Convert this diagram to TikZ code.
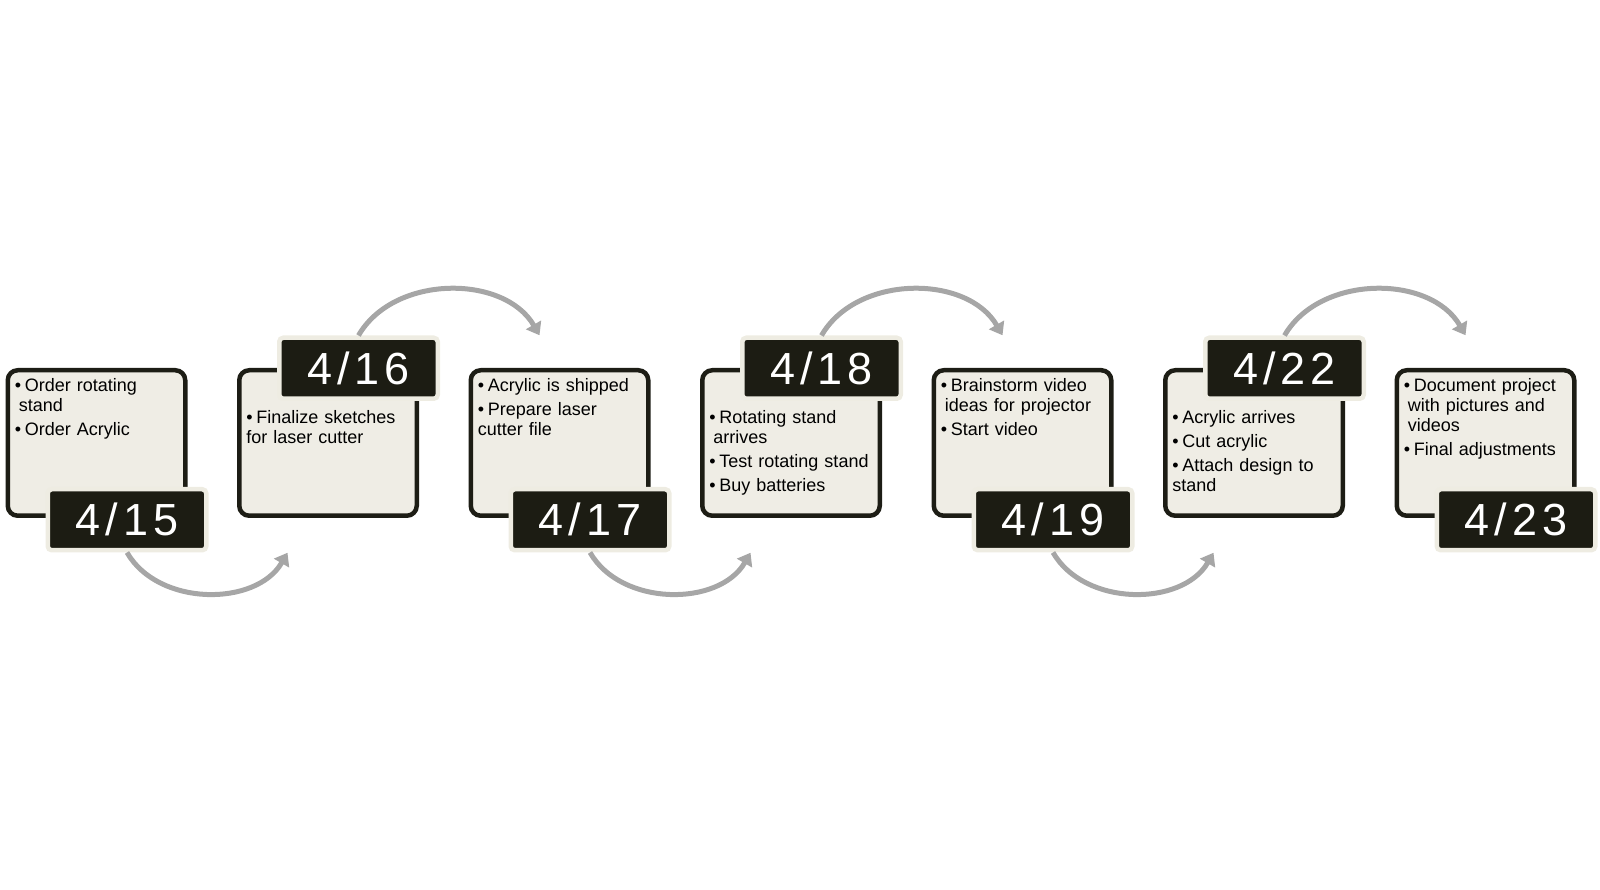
\documentclass[tikz,border=0pt]{standalone}
\usepackage{fontspec}
\setmainfont{Liberation Sans}
\newfontfamily\datefont[LetterSpace=11]{Liberation Sans}
\usetikzlibrary{positioning, arrows.meta}

\definecolor{boxline}{HTML}{1D1D15}
\definecolor{boxfill}{HTML}{EFEDE5}
\definecolor{datefill}{HTML}{1C1C13}
\definecolor{dateframe}{HTML}{EEECE2}
\definecolor{flowgray}{HTML}{A6A6A6}

\newcommand{\bitem}{\par\hangindent=4pt\hangafter=1\noindent\textbullet\hspace{3.7pt}}

\tikzset{
  task/.style={draw=boxline, fill=boxfill, line width=4.5pt, rounded corners=10pt,
    minimum width=177.5pt, minimum height=145.5pt, inner sep=0pt, outer sep=0pt},
  date/.style={draw=dateframe, fill=datefill, line width=4.5pt, rounded corners=4pt,
    minimum width=158.5pt, minimum height=61pt, inner sep=0pt, outer sep=2.25pt,
    text=white, font=\datefont\fontsize{45}{45}\selectfont},
  notes/.style={anchor=north west, text width=172pt, inner sep=0pt,
    font=\fontsize{18}{20}\selectfont\setlength{\parskip}{4pt}},
  flow/.style={color=flowgray, line width=5pt, ->},
}

\begin{document}
\begin{tikzpicture}[x=1pt, y=1pt, node distance=231.5pt, on grid,
    >={Triangle[length=12pt,width=17pt]}]
    \useasboundingbox (0,0) rectangle (1600,889);

    % boxes
    \node[task] (b1) at (96.5,446) {};
    \node[task] (b2) [right=of b1] {};
    \node[task] (b3) [right=of b2] {};
    \node[task] (b4) [right=of b3] {};
    \node[task] (b5) [right=of b4] {};
    \node[task] (b6) [right=of b5] {};
    \node[task] (b7) [right=of b6] {};

    % dates
    \node[date] (d1) at ([shift={(30.5,-4)}]b1.south) {4/15};
    \node[date] (d2) at ([shift={(30.5,2)}]b2.north) {4/16};
    \node[date] (d3) at ([shift={(30.5,-4)}]b3.south) {4/17};
    \node[date] (d4) at ([shift={(30.5,2)}]b4.north) {4/18};
    \node[date] (d5) at ([shift={(30.5,-4)}]b5.south) {4/19};
    \node[date] (d6) at ([shift={(30.5,2)}]b6.north) {4/22};
    \node[date] (d7) at ([shift={(30.5,-4)}]b7.south) {4/23};

    % notes
    \node[notes] (n1) at ([shift={(7,3)}]b1.north west)
        {\bitem Order rotating\newline stand \bitem Order Acrylic};
    \node[notes] (n2) at ([shift={(7,-29)}]b2.north west)
        {\bitem Finalize sketches\newline for laser cutter};
    \node[notes] (n3) at ([shift={(7,3)}]b3.north west)
        {\bitem Acrylic is shipped \bitem Prepare laser\newline cutter file};
    \node[notes] (n4) at ([shift={(7,-29)}]b4.north west)
        {\bitem Rotating stand\newline arrives \bitem Test rotating stand \bitem Buy batteries};
    \node[notes] (n5) at ([shift={(7,3)}]b5.north west)
        {\bitem Brainstorm video\newline ideas for projector \bitem Start video};
    \node[notes] (n6) at ([shift={(7,-29)}]b6.north west)
        {\bitem Acrylic arrives \bitem Cut acrylic \bitem Attach design to\newline stand};
    \node[notes] (n7) at ([shift={(7,3)}]b7.north west)
        {\bitem Document project\newline with pictures and\newline videos \bitem Final adjustments};

    % arrow ends
    \coordinate (a2) at ([shift={(-40.5,-37)}]b2.south);
    \coordinate (a3) at ([shift={(-20,35)}]b3.north);
    \coordinate (a4) at ([shift={(-40.5,-37)}]b4.south);
    \coordinate (a5) at ([shift={(-20,35)}]b5.north);
    \coordinate (a6) at ([shift={(-40.5,-37)}]b6.south);
    \coordinate (a7) at ([shift={(-20,35)}]b7.north);

    \path[flow]
        (d1.south) edge [bend right=60] (a2)
        (d2.north) edge [bend left=60] (a3)
        (d3.south) edge [bend right=60] (a4)
        (d4.north) edge [bend left=60] (a5)
        (d5.south) edge [bend right=60] (a6)
        (d6.north) edge [bend left=60] (a7);
\end{tikzpicture}
\end{document}
